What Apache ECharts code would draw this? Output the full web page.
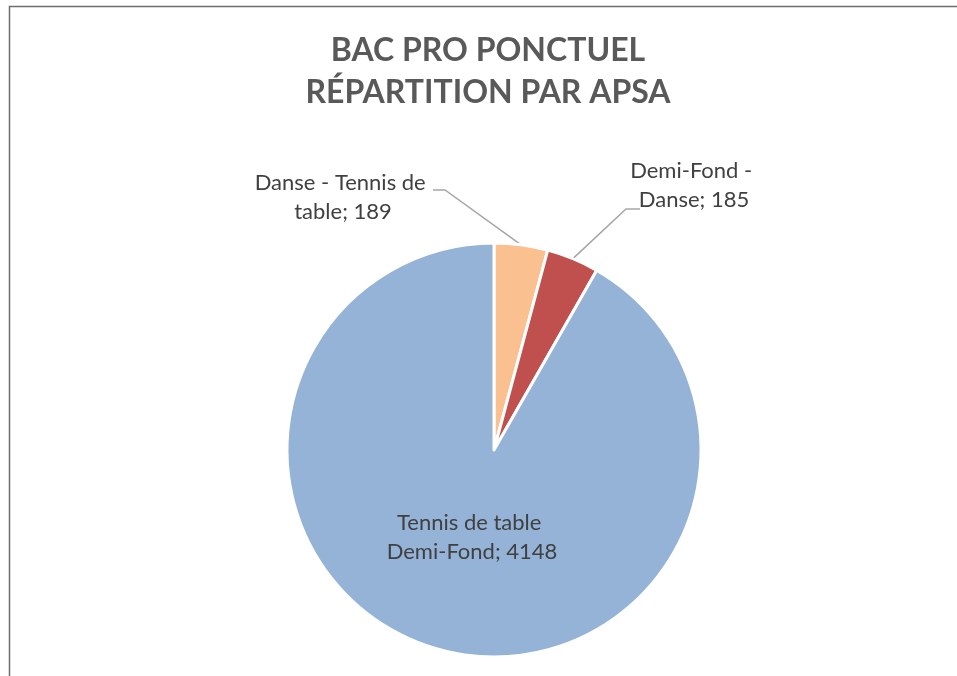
<!DOCTYPE html>
<html>
<head>
<meta charset="utf-8">
<script src="https://cdn.jsdelivr.net/npm/echarts@6/dist/echarts.min.js"></script>
<style>
html,body{margin:0;padding:0;background:#fff;}
#chart{width:957px;height:676px;}
</style>
</head>
<body>
<div id="chart"></div>
<script>
const titleLines = ['BAC PRO PONCTUEL', 'RÉPARTITION PAR APSA'];
const categories = ['Danse - Tennis de table', 'Demi-Fond - Danse', 'Tennis de table Demi-Fond'];
const values = [189, 185, 4148];
const colors = ['#FAC090', '#C0504D', '#95B3D7'];
const labelWidths = [200, 130, 190];

const labelFont = 'Lato, "Liberation Sans", sans-serif';
const labelPos = [ [343, 197], [694, 185], [472, 537] ];
// leader-line attachment offsets relative to label centre: [dx, dy, horizontal run]
const leaderAttach = [ [90, -7, 12], [-54, 24, -14] ];

const chart = echarts.init(document.getElementById('chart'));
chart.setOption({
  animation: false,
  backgroundColor: '#fff',
  title: {
    text: titleLines.join('\n'),
    left: 483,
    top: 25,
    textAlign: 'center',
    textStyle: {
      fontFamily: 'Lato, "Liberation Sans", sans-serif',
      fontWeight: 'bold',
      fontSize: 32,
      lineHeight: 42,
      color: '#595959'
    }
  },
  graphic: [{
    type: 'rect',
    left: 7,
    top: 4,
    shape: { width: 1200, height: 1000 },
    style: { fill: 'none', stroke: '#6e6e6e', lineWidth: 1.5 },
    silent: true
  }],
  series: [{
    type: 'pie',
    center: [494, 450],
    radius: [0, 207],
    startAngle: 90,
    clockwise: true,
    avoidLabelOverlap: false,
    itemStyle: { borderColor: '#fff', borderWidth: 3 },
    label: {
      show: true,
      position: 'outside',
      fontFamily: labelFont,
      fontSize: 22,
      lineHeight: 29,
      color: '#404040',
      align: 'center',
      overflow: 'break',
      formatter: p => p.name + '; ' + p.value
    },
    labelLine: {
      show: true,
      lineStyle: { color: '#A6A6A6', width: 1.5 }
    },
    labelLayout: function (p) {
      const i = p.dataIndex;
      const pos = labelPos[i];
      const out = { x: pos[0], y: pos[1], align: 'center', verticalAlign: 'middle' };
      if (i < 2 && p.labelLinePoints) {
        const a = p.labelLinePoints[0];
        const [dx, dy, run] = leaderAttach[i];
        const ex = pos[0] + dx;
        const ly = pos[1] + dy;
        out.labelLinePoints = [a, [ex + run, ly], [ex, ly]];
      }
      return out;
    },
    data: categories.map((c, i) => ({
      name: c,
      value: values[i],
      itemStyle: { color: colors[i] },
      label: i === 2
        ? { position: 'inside', width: labelWidths[i] }
        : { width: labelWidths[i] },
      labelLine: { show: i !== 2 }
    }))
  }]
});
</script>
</body>
</html>
